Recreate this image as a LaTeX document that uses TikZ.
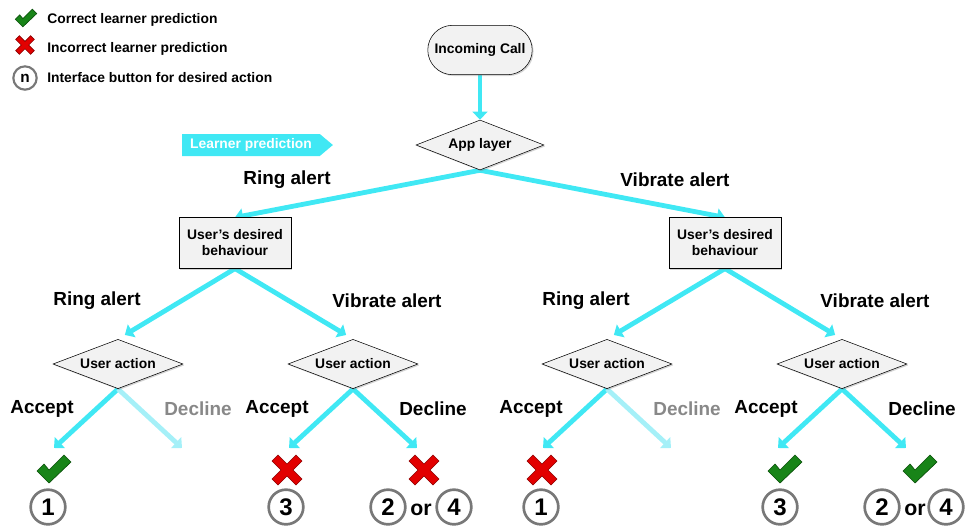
\documentclass[tikz,border=0pt]{standalone}
\usepackage{fontspec}
\setmainfont{Liberation Sans}
\usetikzlibrary{shapes.geometric, shapes.misc, shapes.symbols, arrows.meta, shadows, backgrounds}
\definecolor{flowcyan}{RGB}{64,232,244}
\definecolor{fadecyan}{RGB}{165,240,248}
\definecolor{boxgray}{RGB}{242,242,242}
\definecolor{okgreen}{RGB}{24,132,24}
\definecolor{okdark}{RGB}{10,80,10}
\definecolor{failred}{RGB}{226,0,0}
\definecolor{faildark}{RGB}{140,0,0}
\definecolor{ringgray}{RGB}{120,120,120}
\definecolor{declinegray}{RGB}{136,136,136}
% Haken und Kreuz: x, y, Skalierung
\newcommand{\okmark}[3]{\draw[okdark, fill=okgreen, line width=0.5pt, shift={(#1,#2)}, scale=#3]
  (-17,2) -- (-10,-5) -- (-5,1) -- (10,-14) -- (17,-7) -- (-5,14) -- cycle;}
\newcommand{\failmark}[3]{\draw[faildark, fill=failred, line width=0.5pt, shift={(#1,#2)}, scale=#3]
  (-15,-9) -- (-9,-15) -- (0,-6) -- (9,-15) -- (15,-9) -- (6,0) -- (15,9) -- (9,15)
  -- (0,6) -- (-9,15) -- (-15,9) -- (-6,0) -- cycle;}
\begin{document}
\begin{tikzpicture}[x=0.75pt, y=-0.75pt,
		>={Triangle[length=6pt,width=11pt]},   %Pfeilspitzen
		font=\bfseries\fontsize{10.4}{12}\selectfont,
		flow/.style={->, flowcyan, line width=3.6pt},
		fade/.style={->, fadecyan, line width=3.6pt},
		grau/.style={draw=black, fill=boxgray, drop shadow={shadow xshift=1pt, shadow yshift=-1pt, opacity=0.35}},
		start/.style={grau, rounded rectangle, minimum width=85pt, minimum height=37pt},
		raute/.style={grau, diamond, aspect=2.6, inner sep=0pt},
		wunsch/.style={grau, rectangle, minimum width=84pt, minimum height=38pt, align=center},
		gross/.style={font=\bfseries\fontsize{14.2}{16}\selectfont},
		taste/.style={circle, draw=ringgray, line width=2pt, minimum size=26pt, inner sep=0pt, font=\bfseries\fontsize{18}{18}\selectfont}]
	\useasboundingbox (0,0) rectangle (965,529);
	% Legende
	\okmark{26}{18}{0.63}
	\node[anchor=west, inner sep=0pt] (leg1) at (47,20) {Correct learner prediction};
	\failmark{25}{45}{0.62}
	\node[anchor=west, inner sep=0pt] (leg2) at (47,49) {Incorrect learner prediction};
	\node[taste, minimum size=17.5pt, line width=1.6pt, font=\bfseries\fontsize{11.5}{11.5}\selectfont] (legn) at (25,78) {n};
	\node[anchor=west, inner sep=0pt] (leg3) at (47,78) {Interface button for desired action};
	\node[signal, signal to=east, signal pointer angle=80, fill=flowcyan, text=white, minimum width=113pt, minimum height=16.5pt, inner xsep=2pt] (lp) at (251,145) {Learner prediction};
	% Knoten
	\node[start] (call) at (480,50) {Incoming Call};
	\node[raute, minimum width=96pt, minimum height=37.5pt] (app) at (480,145) {App layer};
	\node[wunsch] (wl) at (235,243) {User’s desired\\behaviour};
	\node[wunsch] (wr) at (725,243) {User’s desired\\behaviour};
	\foreach \n/\x in {a/118, b/353, c/607, d/842}
		\node[raute, minimum width=97.5pt, minimum height=37pt] (ua\n) at (\x,364) {User action};
	\foreach \n/\x in {a/118, b/353, c/607, d/842} {
		\coordinate (acc\n) at (\x-64,448);
		\coordinate (dec\n) at (\x+64,448);
	}
	% Pfeile
	\begin{pgfonlayer}{background}
		\draw[flow] (call.south) -- (app.north);
		\draw[flow] (app.south) -- (wl.north);
		\draw[flow] (app.south) -- (wr.north);
		\draw[flow, shorten >=6pt] (wl.south) -- (uaa.north);
		\draw[flow, shorten >=6pt] (wl.south) -- (uab.north);
		\draw[flow, shorten >=6pt] (wr.south) -- (uac.north);
		\draw[flow, shorten >=6pt] (wr.south) -- (uad.north);
		\foreach \n/\s in {a/fade, b/flow, c/fade, d/flow} {
			\draw[flow] (ua\n.south) -- (acc\n);
			\draw[\s] (ua\n.south) -- (dec\n);
		}
	\end{pgfonlayer}
	% Beschriftung
	\node[gross] (ring) at (287,180) {Ring alert};
	\node[gross] (vib) at (675,180) {Vibrate alert};
	\node[gross] (ringl) at (97,301) {Ring alert};
	\node[gross] (vibl) at (387,301) {Vibrate alert};
	\node[gross] (ringr) at (586,301) {Ring alert};
	\node[gross] (vibr) at (875,301) {Vibrate alert};
	\foreach \n/\x/\c in {a/118/declinegray, b/353/black, c/607/declinegray, d/842/black} {
		\node[gross] (lacc\n) at (\x-76,409) {Accept};
		\node[gross, text=\c] (ldec\n) at (\x+80,409) {Decline};
	}
	% Ergebnisse
	\okmark{54}{469}{1}
	\failmark{287}{470}{1}
	\failmark{424}{470}{1}
	\failmark{542}{470}{1}
	\okmark{785}{469}{1}
	\okmark{920}{469}{1}
	\node[taste] (ta1) at (48,507) {1};
	\node[taste] (tb3) at (286,507) {3};
	\node[taste] (tb2) at (388,507) {2};
	\node[font=\bfseries\fontsize{16}{16}\selectfont] (tbor) at (421,510) {or};
	\node[taste] (tb4) at (454,507) {4};
	\node[taste] (tc1) at (541,507) {1};
	\node[taste] (td3) at (780,507) {3};
	\node[taste] (td2) at (882,507) {2};
	\node[font=\bfseries\fontsize{16}{16}\selectfont] (tdor) at (915,510) {or};
	\node[taste] (td4) at (946,507) {4};
\end{tikzpicture}
\end{document}
